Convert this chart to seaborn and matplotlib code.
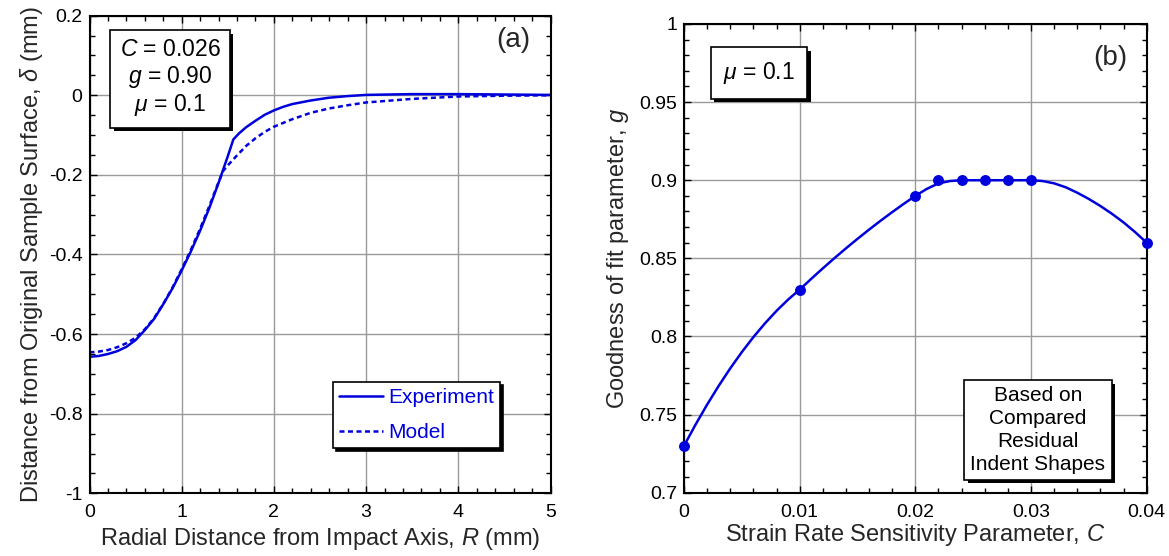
import numpy as np
import pandas as pd
import seaborn as sns
import matplotlib
matplotlib.use("Agg")
import matplotlib.pyplot as plt
import matplotlib.patheffects as pe
from matplotlib.ticker import MultipleLocator, FuncFormatter

# ---------------- data ----------------
R_exp = [0, 0.1, 0.2, 0.3, 0.4, 0.5, 0.6, 0.7, 0.8, 0.9, 1.0, 1.1, 1.2, 1.3, 1.4,
         1.5, 1.56, 1.62, 1.7, 1.8, 1.9, 2.0, 2.1, 2.2, 2.4, 2.6, 2.8, 3.0, 3.5, 4.0, 4.5, 5.0]
d_exp = [-0.657, -0.655, -0.650, -0.643, -0.632, -0.615, -0.590, -0.562, -0.525, -0.485,
         -0.440, -0.392, -0.340, -0.283, -0.220, -0.153, -0.111, -0.096, -0.080, -0.064,
         -0.049, -0.038, -0.029, -0.022, -0.013, -0.006, -0.002, 0.001, 0.003, 0.003, 0.002, 0.001]

R_model = [0, 0.1, 0.2, 0.3, 0.4, 0.5, 0.6, 0.7, 0.8, 0.9, 1.0, 1.1, 1.2, 1.3, 1.4,
           1.45, 1.5, 1.6, 1.7, 1.8, 1.9, 2.0, 2.2, 2.4, 2.6, 2.8, 3.0, 3.5, 4.0, 4.5, 5.0]
d_model = [-0.646, -0.644, -0.640, -0.633, -0.623, -0.609, -0.588, -0.560, -0.524, -0.483,
           -0.437, -0.388, -0.335, -0.278, -0.218, -0.190, -0.176, -0.151, -0.127, -0.108,
           -0.092, -0.079, -0.060, -0.044, -0.033, -0.025, -0.018, -0.009, -0.003, -0.001, 0.0]

C_pts = [0, 0.01, 0.02, 0.022, 0.024, 0.026, 0.028, 0.03, 0.04]
g_pts = [0.73, 0.83, 0.89, 0.90, 0.90, 0.90, 0.90, 0.90, 0.86]

C_curve = [0, 0.001, 0.002, 0.003, 0.004, 0.005, 0.006, 0.007, 0.008, 0.009, 0.01,
           0.011, 0.012, 0.013, 0.014, 0.015, 0.016, 0.017, 0.018, 0.019, 0.02,
           0.021, 0.022, 0.023, 0.024, 0.026, 0.028, 0.03,
           0.031, 0.032, 0.033, 0.034, 0.035, 0.036, 0.037, 0.038, 0.039, 0.04]
g_curve = [0.730, 0.7436, 0.7564, 0.7684, 0.7796, 0.790, 0.7996, 0.8084, 0.8164, 0.8236, 0.830,
           0.8369, 0.8436, 0.8501, 0.8564, 0.8625, 0.8684, 0.8741, 0.8796, 0.8849, 0.8900,
           0.8945, 0.898, 0.8995, 0.900, 0.900, 0.900, 0.900,
           0.8995, 0.898, 0.8955, 0.892, 0.888, 0.8835, 0.8785, 0.873, 0.8668, 0.860]

# ---------------- style ----------------
sns.set_theme(style="ticks")
plt.rcParams['font.family'] = ['Liberation Sans', 'DejaVu Sans']
plt.rcParams['mathtext.fontset'] = 'custom'
plt.rcParams['mathtext.rm'] = 'Liberation Sans'
plt.rcParams['mathtext.it'] = 'Liberation Sans:italic'
plt.rcParams['axes.unicode_minus'] = False

BLUE = '#0000DD'
W, H = 1169, 556
fig = plt.figure(figsize=(W / 100, H / 100), dpi=100)


def px_axes(x0, y0, x1, y1):
    return fig.add_axes([x0 / W, 1 - y1 / H, (x1 - x0) / W, (y1 - y0) / H])


box1 = (89.5, 15.7, 550.5, 493.3)
box2 = (684, 24, 1146.7, 492.7)
ax1 = px_axes(*box1)
ax2 = px_axes(*box2)

fmt = FuncFormatter(lambda v, p: ('%g' % round(v, 6)))


def style_axes(ax):
    ax.set_facecolor('white')
    ax.set_axisbelow(True)
    ax.grid(True, which='major', color='#9a9a9a', lw=1.0)
    for s in ax.spines.values():
        s.set_visible(True)
        s.set_color('black')
        s.set_linewidth(1.5)
    ax.tick_params(which='both', direction='in', top=True, right=True,
                   colors='black', labelsize=14)
    ax.tick_params(axis='x', which='both', pad=8)
    ax.tick_params(axis='y', which='both', pad=5)
    ax.tick_params(which='major', length=5, width=1)
    ax.tick_params(which='minor', length=3.5, width=1)
    ax.xaxis.set_major_formatter(fmt)
    ax.yaxis.set_major_formatter(fmt)


def shadow_box(ax, x, y, s, size, **kw):
    t = ax.text(x, y, s, transform=ax.transAxes, fontsize=size, ha='center',
                va='center', multialignment='center', color='black', zorder=10,
                bbox=dict(boxstyle=kw.pop('boxstyle', 'square,pad=0.4'),
                          fc='white', ec='black', lw=1.2), **kw)
    t.get_bbox_patch().set_path_effects(
        [pe.SimplePatchShadow(offset=(2.5, -2.5), shadow_rgbFace='black', alpha=1.0),
         pe.Normal()])
    return t


def ax_frac(px, py, box):
    x0, y0, x1, y1 = box
    return (px - x0) / (x1 - x0), 1 - (py - y0) / (y1 - y0)


# ---------------- panel (a) ----------------
style_axes(ax1)
sns.lineplot(x=R_exp, y=d_exp, ax=ax1, color=BLUE, lw=1.8, sort=False,
             estimator=None, label='Experiment')
sns.lineplot(x=R_model, y=d_model, ax=ax1, color=BLUE, lw=1.8, sort=False,
             estimator=None, label='Model', linestyle=(0, (2.0, 1.4)))
ax1.set_xlim(0, 5)
ax1.set_ylim(-1, 0.2)
ax1.xaxis.set_major_locator(MultipleLocator(1))
ax1.xaxis.set_minor_locator(MultipleLocator(0.2))
ax1.yaxis.set_major_locator(MultipleLocator(0.2))
ax1.yaxis.set_minor_locator(MultipleLocator(0.05))
ax1.set_xlabel(r'Radial Distance from Impact Axis, $R$ (mm)', fontsize=17, labelpad=3)
ax1.set_ylabel(r'Distance from Original Sample Surface, $\delta$ (mm)', fontsize=17, labelpad=3)

lx, ly = ax_frac(333, 382, box1)
leg = ax1.legend(loc='upper left', bbox_to_anchor=(lx, ly), borderaxespad=0,
                 fontsize=15, frameon=True, fancybox=False, framealpha=1,
                 edgecolor='black', labelcolor=BLUE, handlelength=2.1,
                 handletextpad=0.25, labelspacing=0.75, borderpad=0.3,
                 shadow={'color': 'black', 'alpha': 1.0})
leg.get_frame().set_linewidth(1.2)

shadow_box(ax1, *ax_frac(170, 78, box1), '$C$ = 0.026\n$g$ = 0.90\n$\\mu$ = 0.1', 16.5,
           linespacing=1.15)
ax1.text(*ax_frac(513, 40, box1), '(a)', transform=ax1.transAxes,
         fontsize=20, ha='center', va='center')

# ---------------- panel (b) ----------------
style_axes(ax2)
sns.lineplot(x=C_curve, y=g_curve, ax=ax2, color=BLUE, lw=1.8, sort=False,
             estimator=None)
sns.scatterplot(x=C_pts, y=g_pts, ax=ax2, color=BLUE, s=62, edgecolor=BLUE,
                linewidth=0, zorder=5, clip_on=False)
ax2.set_xlim(0, 0.04)
ax2.set_ylim(0.7, 1.0)
ax2.xaxis.set_major_locator(MultipleLocator(0.01))
ax2.xaxis.set_minor_locator(MultipleLocator(0.002))
ax2.yaxis.set_major_locator(MultipleLocator(0.05))
ax2.yaxis.set_minor_locator(MultipleLocator(0.01))
ax2.set_xlabel(r'Strain Rate Sensitivity Parameter, $C$', fontsize=17, labelpad=1)
ax2.set_ylabel(r'Goodness of fit parameter, $g$', fontsize=17, labelpad=6)

shadow_box(ax2, *ax_frac(759, 73, box2), '$\\mu$ = 0.1', 16.5,
           boxstyle='square,pad=0.55')
shadow_box(ax2, *ax_frac(1038, 430, box2),
           'Based on\nCompared\nResidual\nIndent Shapes', 15, linespacing=1.25,
           boxstyle='square,pad=0.3')
ax2.text(*ax_frac(1110, 58, box2), '(b)', transform=ax2.transAxes,
         fontsize=20, ha='center', va='center')

fig.savefig('out.png', dpi=100, facecolor='white')
